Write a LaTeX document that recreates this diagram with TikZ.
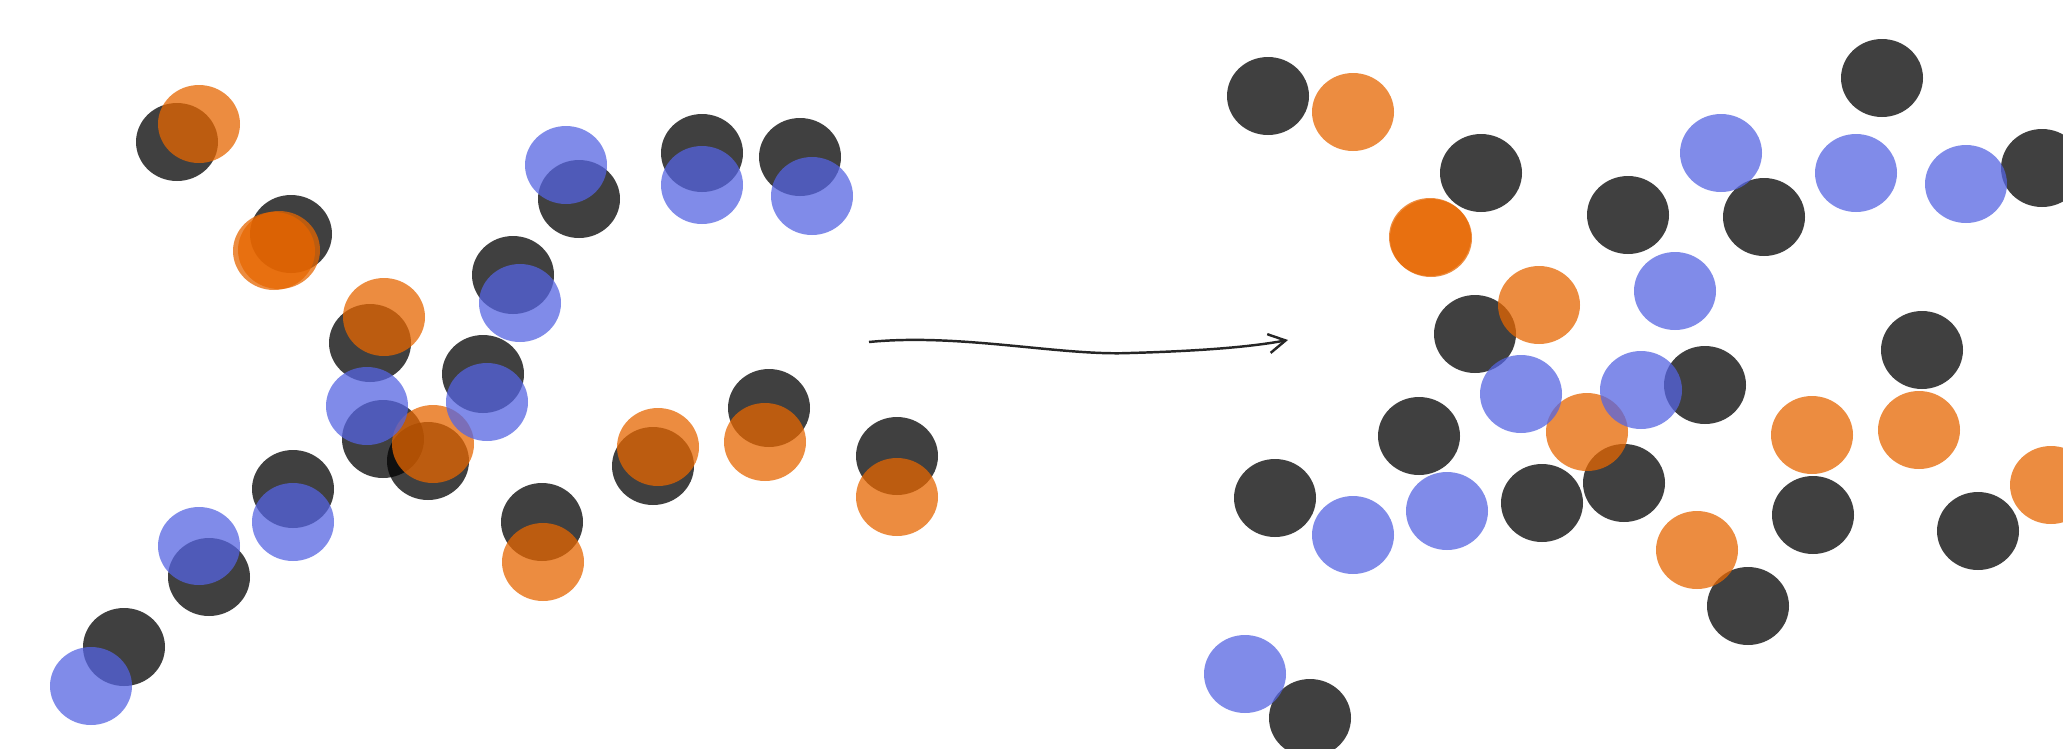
\documentclass[tikz,border=0pt]{standalone}
\usetikzlibrary{arrows.meta}

\definecolor{dotorange}{RGB}{230,102,0}
\definecolor{dotblue}{RGB}{85,100,225}

\begin{document}
\begin{tikzpicture}[
  x=0.01cm, y=-0.01cm,
  dotk/.style  = {fill=black, fill opacity=0.75},
  doto/.style  = {fill=dotorange, fill opacity=0.75},
  dotb/.style  = {fill=dotblue, fill opacity=0.75},
  flowarr/.style = {-{Straight Barb[length=4.8pt, width=5.4pt]}, line width=0.7pt, black!85},
]
\useasboundingbox (0,0) rectangle (2063,748);

%% ------------------------------------------------------------------ BEFORE
% pairs of dots sitting almost on top of one another
\foreach \x/\y in {177/142, 291/234, 370/343, 513/275, 579/199, 702/153, 800/157,
                   483/374, 383/439, 428/461, 293/489, 209/577, 124/647, 542/522,
                   653/466, 769/408, 897/456}
  { \fill[dotk] (\x,\y) ellipse [x radius=41, y radius=39]; }
\foreach \x/\y in {199/124, 274/251, 279/250, 384/317, 433/444, 543/562, 658/447,
                   765/442, 897/497}
  { \fill[doto] (\x,\y) ellipse [x radius=41, y radius=39]; }
\foreach \x/\y in {520/303, 566/165, 702/185, 812/196, 487/402, 367/406, 293/522,
                   199/546, 91/686}
  { \fill[dotb] (\x,\y) ellipse [x radius=41, y radius=39]; }

%% ------------------------------------------------------------------ AFTER
% the same dots, spread apart
\foreach \x/\y in {1268/96, 1481/173, 1628/215, 1764/217, 1882/78, 2042/168, 1475/334,
                   1705/385, 1419/436, 1922/350, 1275/498, 1542/503, 1624/483,
                   1813/515, 1978/531, 1748/606, 1310/718}
  { \fill[dotk] (\x,\y) ellipse [x radius=41, y radius=39]; }
\foreach \x/\y in {1353/112, 1430/237, 1431/238, 1539/305, 1587/432, 1812/435,
                   1919/430, 1697/550, 2051/485}
  { \fill[doto] (\x,\y) ellipse [x radius=41, y radius=39]; }
\foreach \x/\y in {1721/153, 1856/173, 1966/184, 1675/291, 1521/394, 1641/390,
                   1353/535, 1447/511, 1245/674}
  { \fill[dotb] (\x,\y) ellipse [x radius=41, y radius=39]; }

%% ------------------------------------------------------------------ ARROW
\coordinate (flowstart) at (869,342);
\coordinate (flowend)   at (1288,340);
\draw[flowarr] (flowstart) .. controls (960,333) and (1060,356) .. (1130,353)
               .. controls (1200,351) and (1250,347) .. (flowend);

\end{tikzpicture}
\end{document}
